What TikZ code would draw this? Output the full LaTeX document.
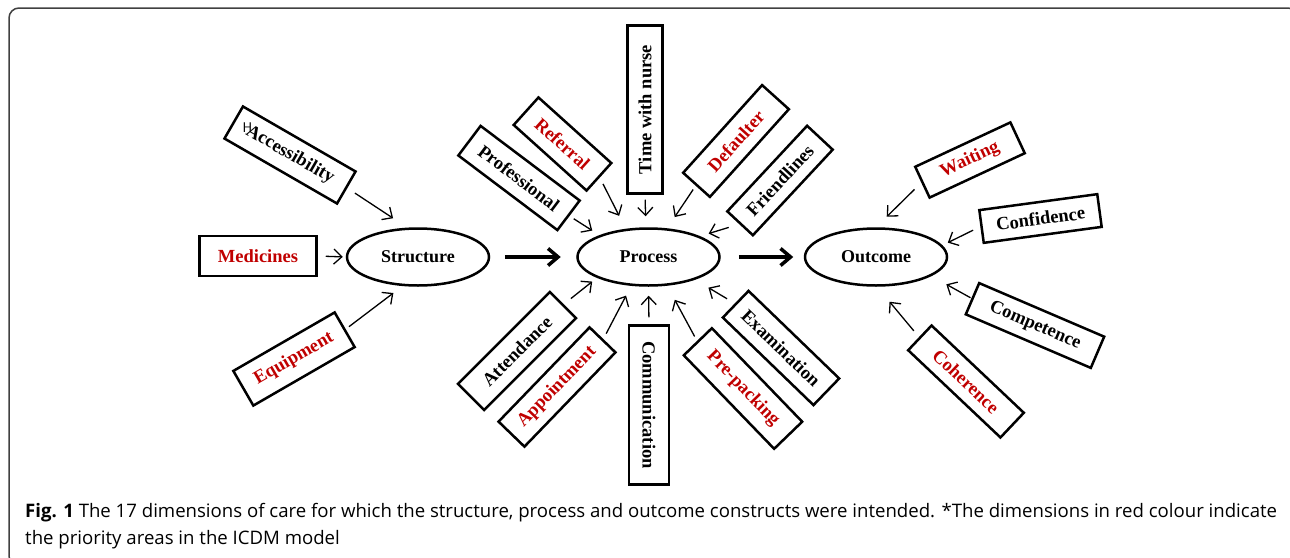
\documentclass[tikz,border=0pt]{standalone}
\usepackage{fontspec}
\setmainfont{Liberation Serif}
\newfontfamily\captionfont{Open Sans}
\usepackage{tikz}
\usetikzlibrary{
        arrows.meta,
        positioning,
        shapes,
        shapes.geometric
    }
\definecolor{dimred}{RGB}{192,0,0}
\tikzset{>={Straight Barb[length=8pt,width=15pt]}}
\tikzset{construct/.style={draw,ellipse,line width=2.5pt,minimum width=142pt,minimum height=57pt,font=\bfseries\fontsize{18}{18}\selectfont}}
\tikzset{dimension/.style={draw,rectangle,line width=2.5pt,inner sep=0pt,minimum height=37pt,font=\bfseries\fontsize{18.5}{18.5}\selectfont}}
\tikzset{priority/.style={text=dimred}}
\tikzset{main link/.style={line width=3.5pt,-{Straight Barb[length=10pt,width=17pt]}}}

\begin{document}
\begin{tikzpicture}[x=1pt,y=-1pt]
				\useasboundingbox (0,0) rectangle (1290,557);
				\begin{scope}
					\clip (0,0) rectangle (1290,557);
					\draw[black!75,line width=1.5pt,rounded corners=10pt] (9,8) rectangle (1298,566);
				\end{scope}
				% constructs
				\node[construct] (s0) at (418,257)     {Structure};
				\node[construct] (p0)  [right=86pt of s0]     {Process};
				\node[construct] (o0)  [right=83pt of p0]     {Outcome};
				% structure dimensions
				\node[dimension,rotate=-30,minimum width=130pt] (s1) at (290,155) {Accessibility};
				\node[font=\sffamily\fontsize{14}{14}\selectfont] (s1h) at (247.5,127.5) {H};
				\node[dimension,priority,minimum width=117pt,minimum height=40pt] (s2) at (258,256) {Medicines};
				\node[dimension,priority,rotate=30,minimum width=117pt,minimum height=40pt] (s3) at (294,359) {Equipment};
				% process dimensions
				\node[dimension,rotate=-37,minimum width=124pt] (p1) at (519,178) {Professional};
				\node[dimension,priority,rotate=-42,minimum width=98pt] (p2) at (562.5,144) {Referral};
				\node[dimension,rotate=90,minimum width=168pt,minimum height=35pt] (p3) at (645,109.5) {Time with nurse};
				\node[dimension,priority,rotate=48,minimum width=118pt,minimum height=36pt] (p4) at (736,141) {Defaulter};
				\node[dimension,rotate=47,minimum width=117pt,minimum height=35pt] (p5) at (780,180.5) {Friendlines};
				\node[dimension,rotate=45,minimum width=130pt] (p6) at (517,351) {Attendance};
				\node[dimension,priority,rotate=46,minimum width=131pt,minimum height=36pt] (p7) at (557,387) {Appointment};
				\node[dimension,rotate=-90,minimum width=159pt,minimum height=40pt] (p8) at (649,405) {Communication};
				\node[dimension,priority,rotate=-46,minimum width=130pt,minimum height=39pt] (p9) at (743,388.5) {Pre-packing};
				\node[dimension,rotate=-44,minimum width=126pt] (p10) at (781,348) {Examination};
				% outcome dimensions
				\node[dimension,priority,rotate=25,minimum width=105pt,minimum height=34pt] (o1) at (970,160) {Waiting};
				\node[dimension,rotate=7.7,minimum width=119pt,minimum height=33pt] (o2) at (1040.5,218.5) {Confidence};
				\node[dimension,rotate=-23.2,minimum width=136pt,minimum height=34pt] (o3) at (1035,325.5) {Competence};
				\node[dimension,priority,rotate=-43.4,minimum width=127pt,minimum height=34pt] (o4) at (966,381.5) {Coherence};
				\path[->,line width=1.3pt]
					(s1.east)  edge[shorten <=9pt,shorten >=17pt]  (s0.110)
					(s2.east)  edge[shorten <=8pt,shorten >=3pt]  (s0.west)
					(s3.east)  edge[shorten <=4pt,shorten >=11.5pt]  (s0.242)
					(p1.east)  edge[shorten <=5pt,shorten >=8.5pt]  (p0.156)
					(p2.east)  edge[shorten <=7pt,shorten >=14.5pt]  (p0.129)
					(p3.west)  edge[shorten <=5pt,shorten >=11pt]  (p0.95)
					(p4.west)  edge[shorten <=4.5pt,shorten >=13.5pt]  (p0.57)
					(p5.west)  edge[shorten <=11pt,shorten >=9pt]  (p0.22)
					(p6.east)  edge[shorten <=9pt,shorten >=6pt]  (p0.202)
					(p7.east)  edge[shorten <=6pt,shorten >=11pt]  (p0.239)
					(p8.west)  edge[shorten <=7pt,shorten >=9pt]  (p0.south)
					(p9.west)  edge[shorten <=5pt,shorten >=16pt]  (p0.303)
					(p10.west)  edge[shorten <=9pt,shorten >=15.5pt]  (p0.334.5)
					(o1.west)  edge[shorten <=9.5pt,shorten >=15pt]  (o0.north)
					(o2.west)  edge[shorten <=8pt,shorten >=6pt]  (o0.10)
					(o3.west)  edge[shorten <=1pt,shorten >=17pt]  (o0.341.5)
					(o4.west)  edge[shorten <=8pt,shorten >=19.5pt]  (o0.272);
				\path[main link]
					(s0)  edge[shorten <=14.5pt,shorten >=15.5pt]  (p0)
					(p0)  edge[shorten <=18pt,shorten >=10.5pt]  (o0);
				% caption
				\node[anchor=north west,align=left,inner sep=0pt,font=\captionfont\fontsize{18.6}{27}\selectfont] (cap) at (25,503)
					{\textbf{Fig. 1} The 17 dimensions of care for which the structure, process and outcome constructs were intended. *The dimensions in red colour indicate\\the priority areas in the ICDM model};
			\end{tikzpicture}
\end{document}
